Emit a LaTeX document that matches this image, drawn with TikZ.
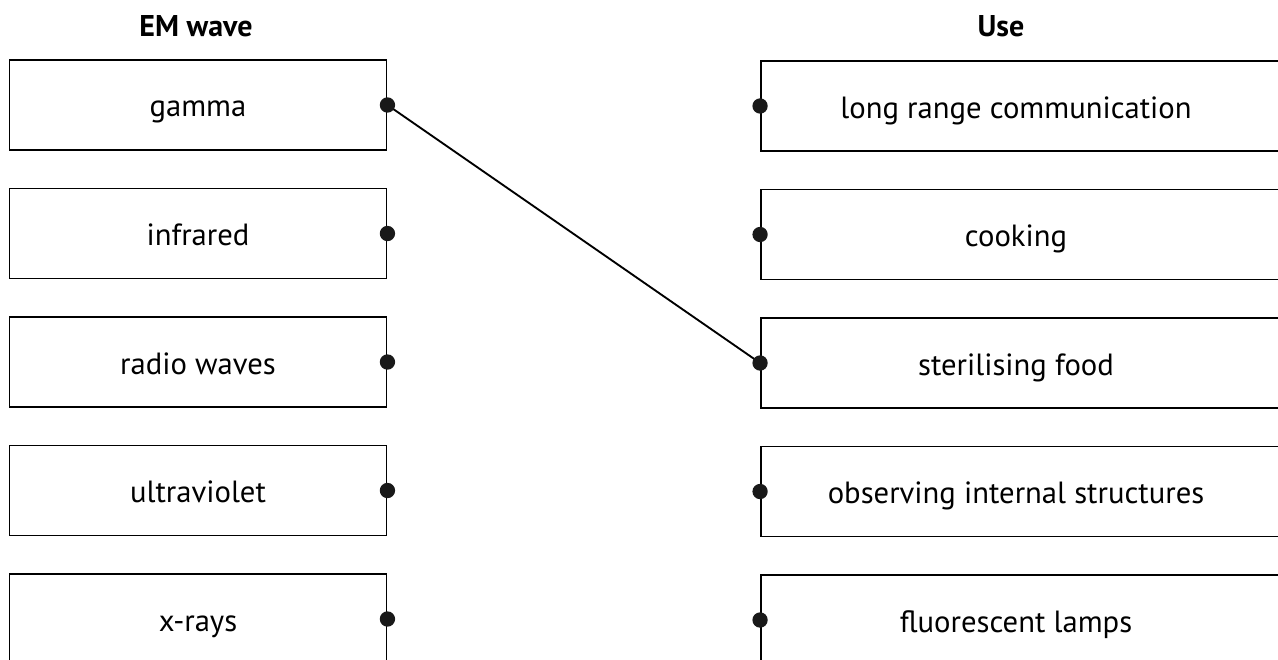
\documentclass[tikz,border=0pt]{standalone}
\usepackage{fontspec}
\setmainfont{PT Sans}
\begin{document}
\begin{tikzpicture}[x=0.75pt,y=-0.75pt]
\tikzstyle{lbox}=[draw, line width=1.4pt, minimum width=282.75pt, minimum height=67.5pt, inner sep=0pt, text height=20pt, text depth=2pt, font=\fontsize{23}{27}\selectfont]
\tikzstyle{rbox}=[draw, line width=1.4pt, minimum width=404.25pt, minimum height=67.5pt, inner sep=0pt]
\tikzstyle{word}=[inner sep=0pt, text height=20pt, text depth=2pt, font=\fontsize{23}{27}\selectfont]
\tikzstyle{head}=[inner sep=0pt, anchor=base, font=\bfseries\fontsize{22.5}{26}\selectfont]
\tikzstyle{dot}=[circle, fill=black!90, inner sep=0pt, minimum size=11.5pt]
\useasboundingbox (0,0) rectangle (1278,660);

\node[head] (emwave) at (196,37) {EM wave};
\node[head] (use) at (1001,37) {Use};

\node[lbox] (gamma) at (198,105) {gamma};
\node[lbox] (infrared) at (198,233.5) {infrared};
\node[lbox] (radio) at (198,362) {radio waves};
\node[lbox] (uv) at (198,490.5) {ultraviolet};
\node[lbox] (xrays) at (198,619) {x-rays};

\node[rbox] (comm) at (1030.5,106) {};
\node[rbox] (cook) at (1030.5,234.5) {};
\node[rbox] (steril) at (1030.5,363) {};
\node[rbox] (observe) at (1030.5,491.5) {};
\node[rbox] (lamps) at (1030.5,620) {};
\node[word] (commtext) at (1016,106) {long range communication};
\node[word] (cooktext) at (1016,234.5) {cooking};
\node[word] (steriltext) at (1016,363) {sterilising food};
\node[word] (observetext) at (1016,491.5) {observing internal structures};
\node[word] (lampstext) at (1016,620) {fluorescent lamps};

\draw[line width=1.4pt] (gamma.east) -- (steril.west);

\node[dot] at (gamma.east) {};
\node[dot] at (infrared.east) {};
\node[dot] at (radio.east) {};
\node[dot] at (uv.east) {};
\node[dot] at (xrays.east) {};
\node[dot] at (comm.west) {};
\node[dot] at (cook.west) {};
\node[dot] at (steril.west) {};
\node[dot] at (observe.west) {};
\node[dot] at (lamps.west) {};
\end{tikzpicture}
\end{document}
